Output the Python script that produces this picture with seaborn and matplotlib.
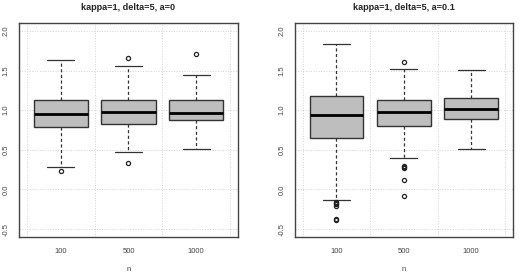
import matplotlib
matplotlib.use('Agg')
import matplotlib.pyplot as plt
import seaborn as sns

# sample sizes
n_labels = ['100', '500', '1000']

# panel 1: kappa=1, delta=5, a=0
q1_a0 = [0.786, 0.830, 0.874]
med_a0 = [0.950, 0.975, 0.962]
q3_a0 = [1.130, 1.126, 1.134]
lo_a0 = [0.277, 0.475, 0.504]
hi_a0 = [1.633, 1.554, 1.448]
out_a0 = [[0.235], [1.660, 0.328], [1.705]]

# panel 2: kappa=1, delta=5, a=0.1
q1_a1 = [0.651, 0.806, 0.894]
med_a1 = [0.945, 0.975, 1.016]
q3_a1 = [1.176, 1.130, 1.151]
lo_a1 = [-0.139, 0.400, 0.513]
hi_a1 = [1.831, 1.524, 1.511]
out_a1 = [[-0.155, -0.17, -0.18, -0.21, -0.37, -0.38],
          [1.608, 0.29, 0.28, 0.273, 0.118, -0.088],
          []]

yticks = [-0.5, 0.0, 0.5, 1.0, 1.5, 2.0]


def make_stats(q1, med, q3, lo, hi, out):
    return [dict(q1=a, med=b, q3=c, whislo=d, whishi=e, fliers=f, label=l)
            for a, b, c, d, e, f, l in zip(q1, med, q3, lo, hi, out, n_labels)]


def draw_panel(ax, stats, title):
    ax.bxp(stats, positions=range(len(stats)), widths=0.8, capwidths=0.4,
           patch_artist=True, zorder=3,
           boxprops=dict(facecolor='#bebebe', edgecolor='#333333', linewidth=1.0),
           medianprops=dict(color='black', linewidth=2.0),
           whiskerprops=dict(color='#333333', linewidth=0.9, linestyle=(0, (2.5, 2))),
           capprops=dict(color='#333333', linewidth=0.9),
           flierprops=dict(marker='o', markerfacecolor='none', markeredgecolor='#222222',
                           markersize=3, markeredgewidth=0.9))
    ax.set_xlim(-0.62, 2.62)
    ax.set_ylim(-0.6, 2.1)
    ax.set_yticks(yticks)
    ax.set_yticklabels([f'{v:.1f}' for v in yticks], rotation=90, va='center')
    ax.set_xticks(range(len(n_labels)))
    ax.set_xticklabels(n_labels)
    # faint dotted grid like R's grid()
    for y in yticks:
        ax.axhline(y, color='#d3d3d3', linestyle=':', linewidth=0.7, zorder=0)
    for x in [-0.5, 0.5, 1.5, 2.5]:
        ax.axvline(x, color='#d3d3d3', linestyle=':', linewidth=0.7, zorder=0)
    ax.set_xlabel('n', fontsize=5.5, labelpad=8, color='#444444')
    ax.set_title(title, fontsize=6.6, fontweight='bold', pad=9)
    ax.tick_params(axis='both', labelsize=5.5, length=3, width=0.7,
                   direction='out', colors='#444444', labelcolor='#444444')
    ax.tick_params(axis='x', pad=5)
    ax.tick_params(axis='y', pad=3.5)
    for s in ax.spines.values():
        s.set_color('#444444')
        s.set_linewidth(1.0)


sns.set_style('white')
plt.rcParams['font.family'] = ['Liberation Sans', 'DejaVu Sans']

fig = plt.figure(figsize=(5.2, 2.8), dpi=100)
ax1 = fig.add_axes([0.0365, 0.1536, 0.4212, 0.7643])
ax2 = fig.add_axes([0.5667, 0.1536, 0.4198, 0.7643])

draw_panel(ax1, make_stats(q1_a0, med_a0, q3_a0, lo_a0, hi_a0, out_a0),
           'kappa=1, delta=5, a=0')
draw_panel(ax2, make_stats(q1_a1, med_a1, q3_a1, lo_a1, hi_a1, out_a1),
           'kappa=1, delta=5, a=0.1')

fig.savefig('out.png', dpi=100)
